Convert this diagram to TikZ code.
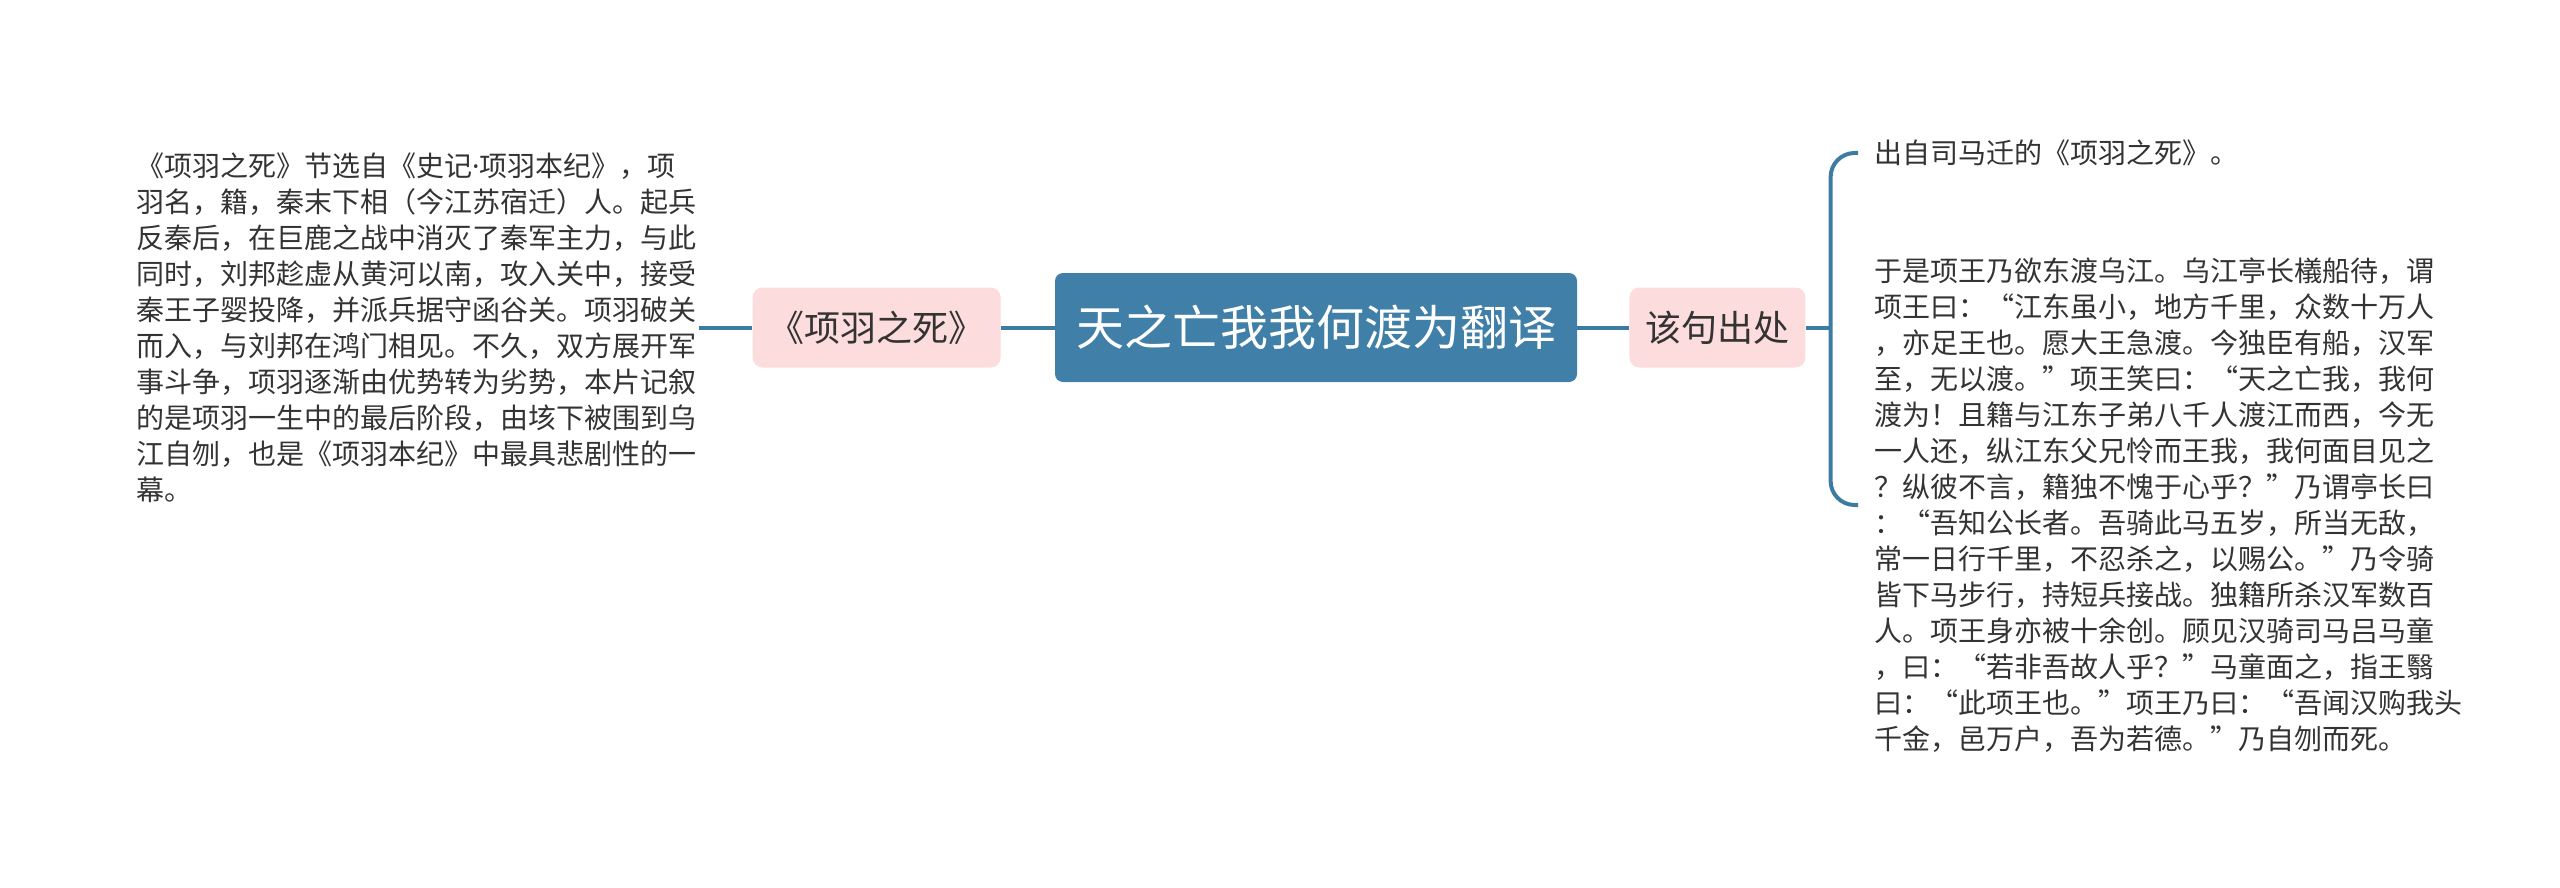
\documentclass[tikz,border=0pt]{standalone}
\usepackage{fontspec}
\newfontfamily\cjk{Noto Sans CJK SC}
\newfontfamily\latin{Noto Sans}
\usetikzlibrary{positioning,calc}
\definecolor{rootblue}{RGB}{64,127,167}
\definecolor{linkblue}{RGB}{62,123,163}
\definecolor{topicpink}{RGB}{252,220,220}
\definecolor{textgray}{RGB}{51,51,51}

\begin{document}
\begin{tikzpicture}[
    x=1pt, y=-1pt,
    root/.style={fill=rootblue, rounded corners=8pt, minimum width=522pt, minimum height=109pt, text=white, font=\cjk\fontsize{48}{58}\selectfont},
    topic/.style={fill=topicpink, rounded corners=10pt, minimum height=80pt, inner xsep=16pt, text=textgray, font=\cjk\fontsize{36}{44}\selectfont},
    leaf/.style={align=left, inner sep=0pt, text=textgray, font=\cjk\fontsize{28}{36}\selectfont},
    link/.style={draw=linkblue, line width=4pt}
  ]
  \useasboundingbox (0,0) rectangle (2560,888);

  \node[root] (root) at (1316,327.5) {天之亡我我何渡为翻译};
  \node[topic, left=54pt of root] (source) {《项羽之死》};
  \node[topic, right=52pt of root] (origin) {该句出处};

  % left branch
  \node[leaf, left=56pt of source] (intro) {《项羽之死》节选自《史记{\latin ·}项羽本纪》，项\\
    羽名，籍，秦末下相（今江苏宿迁）人。起兵\\
    反秦后，在巨鹿之战中消灭了秦军主力，与此\\
    同时，刘邦趁虚从黄河以南，攻入关中，接受\\
    秦王子婴投降，并派兵据守函谷关。项羽破关\\
    而入，与刘邦在鸿门相见。不久，双方展开军\\
    事斗争，项羽逐渐由优势转为劣势，本片记叙\\
    的是项羽一生中的最后阶段，由垓下被围到乌\\
    江自刎，也是《项羽本纪》中最具悲剧性的一\\
    幕。};

  % right branch
  \coordinate[right=25pt of origin] (fork);
  \node[leaf, anchor=west] (author) at (1874,153) {出自司马迁的《项羽之死》。};
  \node[leaf, anchor=west] (story) at (1874,505) {于是项王乃欲东渡乌江。乌江亭长檥船待，谓\\
    项王曰：“江东虽小，地方千里，众数十万人\\
    ，亦足王也。愿大王急渡。今独臣有船，汉军\\
    至，无以渡。”项王笑曰：“天之亡我，我何\\
    渡为！且籍与江东子弟八千人渡江而西，今无\\
    一人还，纵江东父兄怜而王我，我何面目见之\\
    ？纵彼不言，籍独不愧于心乎？”乃谓亭长曰\\
    ：“吾知公长者。吾骑此马五岁，所当无敌，\\
    常一日行千里，不忍杀之，以赐公。”乃令骑\\
    皆下马步行，持短兵接战。独籍所杀汉军数百\\
    人。项王身亦被十余创。顾见汉骑司马吕马童\\
    ，曰：“若非吾故人乎？”马童面之，指王翳\\
    曰：“此项王也。”项王乃曰：“吾闻汉购我头\\
    千金，邑万户，吾为若德。”乃自刎而死。};

  \draw[link] (root) -- (source);
  \draw[link] (source) -- ([xshift=3pt]intro.east);
  \draw[link] (root) -- (origin);
  \draw[link] (origin) -- (fork);
  \draw[link, rounded corners=24pt] ([xshift=-16pt]author.west) -| (fork) |- ([xshift=-16pt]story.west);
\end{tikzpicture}
\end{document}
